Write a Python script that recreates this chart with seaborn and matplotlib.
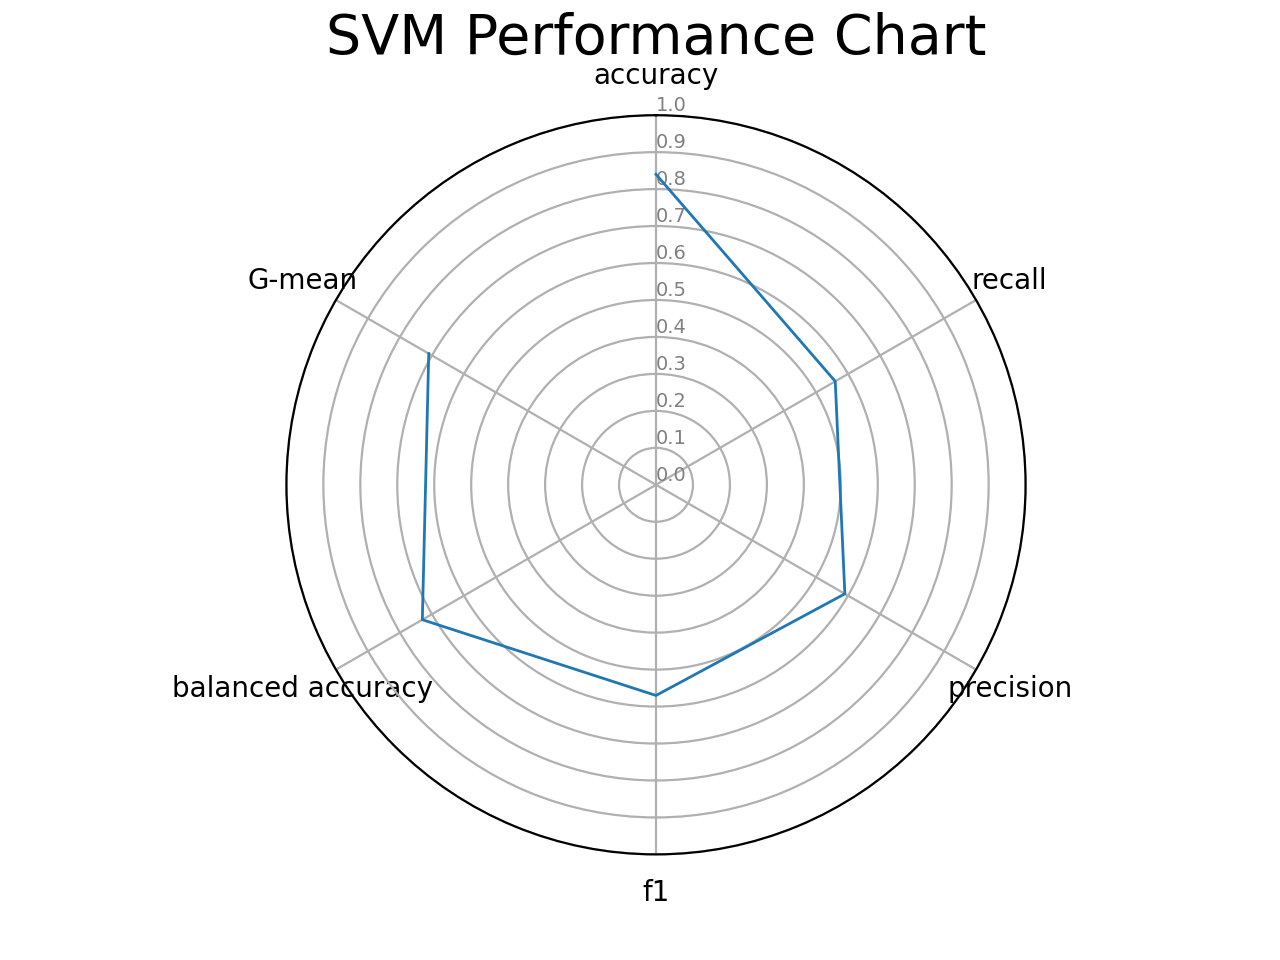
import numpy as np
import pandas as pd
import matplotlib
matplotlib.use("Agg")
import matplotlib.pyplot as plt
import seaborn as sns

metrics = ["accuracy", "recall", "precision", "f1", "balanced accuracy", "G-mean"]
scores = [0.84, 0.56, 0.59, 0.57, 0.73, 0.71]
r_ticks = [0.0, 0.1, 0.2, 0.3, 0.4, 0.5, 0.6, 0.7, 0.8, 0.9, 1.0]

n = len(metrics)
angles = [i * 2 * np.pi / n for i in range(n)]
df = pd.DataFrame({"angle": angles + angles[:1], "score": scores + scores[:1]})

fig = plt.figure(figsize=(6.4, 4.8), dpi=200)
ax = fig.add_subplot(111, polar=True)
ax.set_theta_offset(np.pi / 2)
ax.set_theta_direction(-1)

sns.lineplot(data=df, x="angle", y="score", ax=ax, sort=False, color="#1f77b4", linewidth=1)

ax.set_xticks(angles)
ax.set_xticklabels(metrics, fontsize=10)
ax.set_rlabel_position(0)
ax.set_yticks(r_ticks)
ax.set_yticklabels([f"{t:.1f}" for t in r_ticks], color="grey", fontsize=7)
ax.set_ylim(0, 1)
ax.set_xlabel("")
ax.set_ylabel("")
ax.set_title("SVM Performance Chart", fontsize=20, y=1.06)

fig.savefig("out.png", dpi=200)
